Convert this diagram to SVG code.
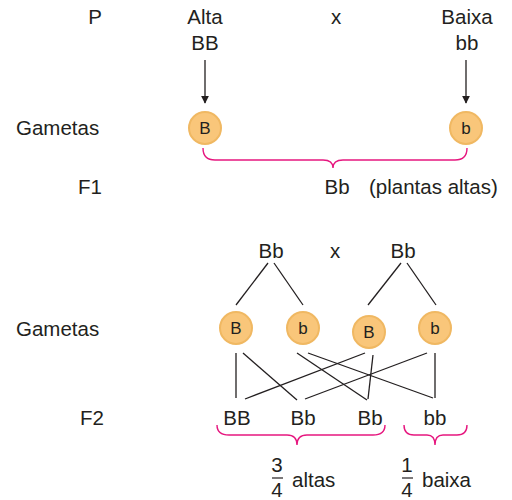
<svg xmlns="http://www.w3.org/2000/svg" width="512" height="500" viewBox="0 0 512 500">
<style>
text{font-family:"Liberation Sans",Arial,sans-serif;fill:#231f20}
.t{font-size:20.5px}
.c{text-anchor:middle}
.g circle{fill:#f9c67a;stroke:#f0b862;stroke-width:2}
.g text{font-size:17px;text-anchor:middle}
.ln line{stroke:#231f20;stroke-width:1.3}
.br{fill:none;stroke:#e6177f;stroke-width:1.4}
</style>
<defs>
<marker id="ah" viewBox="0 0 10 10" refX="9" refY="5" markerWidth="8" markerHeight="10" markerUnits="userSpaceOnUse" orient="auto">
<path d="M0,0 L10,5 L0,10 z" fill="#231f20"/>
</marker>
</defs>
<rect width="512" height="500" fill="#fff"/>
<g id="labels">
<text class="t c" x="95" y="24">P</text>
<text class="t" x="16" y="135">Gametas</text>
<text class="t c" x="90" y="194">F1</text>
<text class="t" x="16" y="336">Gametas</text>
<text class="t c" x="92" y="425">F2</text>
</g>
<g id="p-alta"><text class="t c" x="205" y="24">Alta</text><text class="t c" x="205" y="50">BB</text></g>
<g id="p-x"><text class="t c" x="336" y="24">x</text></g>
<g id="p-baixa"><text class="t c" x="467" y="24">Baixa</text><text class="t c" x="467" y="50">bb</text></g>
<g id="gam-B" class="g"><circle cx="205" cy="128" r="16"/><text x="205" y="134">B</text></g>
<g id="gam-b" class="g"><circle cx="466" cy="128" r="16"/><text x="466" y="134">b</text></g>
<g id="f1"><text class="t c" x="337" y="194">Bb</text><text class="t" x="369" y="194">(plantas altas)</text></g>
<g id="f1-bb1"><text class="t c" x="271" y="258">Bb</text></g>
<g id="f1-x"><text class="t c" x="335" y="258">x</text></g>
<g id="f1-bb2"><text class="t c" x="403" y="258">Bb</text></g>
<g id="g2-B1" class="g"><circle cx="236" cy="328" r="16"/><text x="236" y="334">B</text></g>
<g id="g2-b1" class="g"><circle cx="303" cy="328" r="16"/><text x="303" y="334">b</text></g>
<g id="g2-B2" class="g"><circle cx="369" cy="332" r="16"/><text x="369" y="338">B</text></g>
<g id="g2-b2" class="g"><circle cx="435" cy="328" r="16"/><text x="435" y="334">b</text></g>
<g id="f2-BB"><text class="t c" x="237" y="425">BB</text></g>
<g id="f2-Bb1"><text class="t c" x="303" y="425">Bb</text></g>
<g id="f2-Bb2"><text class="t c" x="370" y="425">Bb</text></g>
<g id="f2-bb"><text class="t c" x="435" y="425">bb</text></g>
<g id="frac-altas">
<text class="t c" x="277" y="472">3</text>
<line x1="272" y1="478" x2="283" y2="478" stroke="#231f20" stroke-width="1.2"/>
<text class="t c" x="277" y="497">4</text>
<text class="t" x="292" y="487">altas</text>
</g>
<g id="frac-baixa">
<text class="t c" x="407" y="472">1</text>
<line x1="402" y1="478" x2="413" y2="478" stroke="#231f20" stroke-width="1.2"/>
<text class="t c" x="407" y="497">4</text>
<text class="t" x="422" y="487">baixa</text>
</g>
<g id="connectors" class="ln">
<line x1="205" y1="60" x2="205" y2="103" marker-end="url(#ah)"/>
<line x1="466" y1="60" x2="466" y2="103" marker-end="url(#ah)"/>
<line x1="268" y1="263" x2="236" y2="305"/>
<line x1="274" y1="263" x2="303" y2="305"/>
<line x1="401" y1="263" x2="368" y2="305"/>
<line x1="407" y1="263" x2="436" y2="305"/>
<line x1="236" y1="353" x2="236" y2="398"/>
<line x1="243" y1="353" x2="297" y2="400"/>
<line x1="245" y1="399" x2="365" y2="353"/>
<line x1="297" y1="353" x2="367" y2="400"/>
<line x1="308" y1="353" x2="433" y2="398"/>
<line x1="373" y1="355" x2="368" y2="399"/>
<line x1="305" y1="399" x2="427" y2="353"/>
<line x1="435" y1="353" x2="435" y2="398"/>
</g>
<g id="braces">
<path class="br" d="M203,148 Q203,160 215,160 L323,160 Q333,160 333,168 Q333,160 343,160 L455,160 Q467,160 467,148"/>
<path class="br" d="M217,425 Q217,435 229,435 L287,435 Q297,435 297,445 Q297,435 307,435 L373,435 Q385,435 385,425"/>
<path class="br" d="M404,425 Q404,435 414,435 L427,435 Q435,435 435,445 Q435,435 443,435 L457,435 Q467,435 467,425"/>
</g>
</svg>
